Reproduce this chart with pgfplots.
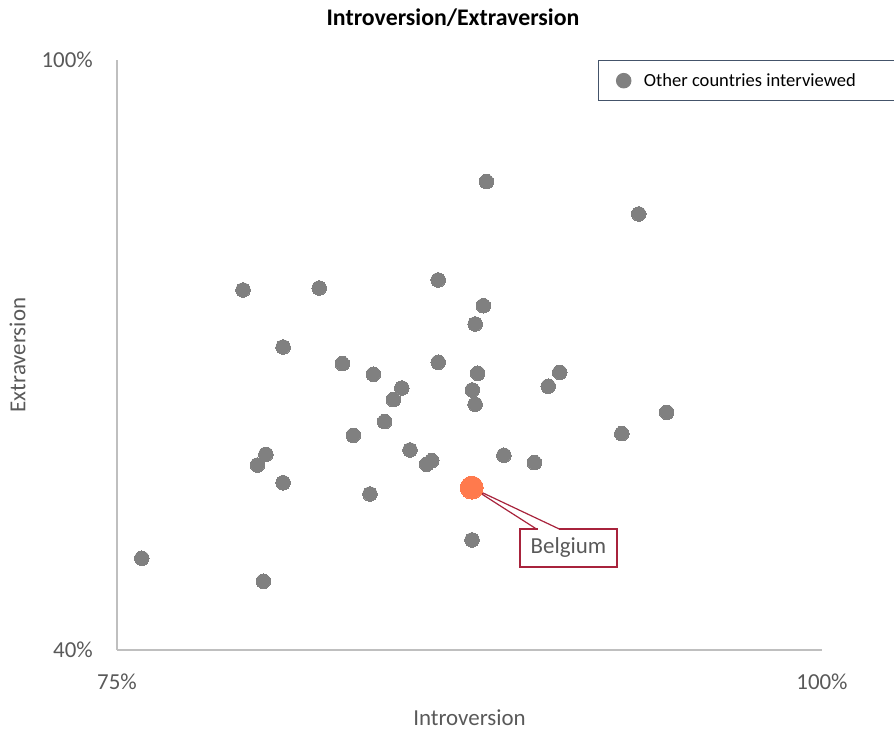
\documentclass[border=0pt]{standalone}
\usepackage{pgfplots}
\pgfplotsset{compat=1.18}
\usepackage{fontspec}
\setmainfont{Carlito}
\definecolor{markgray}{RGB}{128,128,128}
\definecolor{axisgray}{RGB}{191,191,191}
\definecolor{labelgray}{RGB}{89,89,89}
\definecolor{belgiumorange}{RGB}{255,122,77}
\definecolor{crimson}{RGB}{168,35,60}
\definecolor{legendframe}{RGB}{68,84,106}
\begin{document}
\begin{tikzpicture}
\useasboundingbox (0,0) rectangle (894bp,730bp);
\begin{axis}[
  at={(117bp,80bp)}, anchor=south west,
  scale only axis, width=705bp, height=590bp,
  xmin=75, xmax=100, ymin=40, ymax=100,
  axis x line=bottom, axis y line=left,
  axis line style={-, draw=axisgray, line width=1.3bp},
  xtick={75,100}, xticklabels={75\%,100\%},
  ytick={40,100}, yticklabels={40\%,100\%},
  major tick length=0pt,
  /pgf/number format/assume math mode=true,
  tick label style={font=\fontsize{23}{27}\selectfont, text=labelgray, inner sep=0pt},
  xticklabel style={anchor=center, yshift=-32bp},
  yticklabel style={anchor=east, xshift=-24bp},
  every axis x label/.style={at={(axis description cs:0.5,-0.1153)}, anchor=center, font=\fontsize{23}{27}\selectfont, text=labelgray},
  every axis y label/.style={at={(axis description cs:-0.1411,0.5)}, anchor=center, rotate=90, font=\fontsize{23}{27}\selectfont, text=labelgray},
  xlabel={Introversion}, ylabel={Extraversion},
  every axis title/.style={at={(axis description cs:0.4766,1.0712)}, anchor=center, font=\fontsize{23.9}{28}\selectfont\bfseries, text=black},
  title={Introversion/Extraversion},
  legend style={at={(axis description cs:0.6823,1)}, anchor=north west,
    draw=legendframe, line width=0.9bp, inner xsep=17.5bp, inner ysep=12.5bp,
    column sep=12.5bp, font=\fontsize{18.6}{22}\selectfont, text=black,
    nodes={inner sep=0pt}},
  legend image code/.code={\fill[markgray] (0bp,0bp) circle (7.3bp);},
  clip=false,
]
\addplot[only marks, mark=*, mark size=7.3bp, mark options={draw=markgray, fill=markgray, line width=0pt}] table {
x y
75.88 49.33
79.47 76.61
80.19 46.99
79.98 58.81
80.28 59.90
80.89 70.81
80.89 57.01
82.17 76.81
82.99 69.12
83.38 61.83
83.97 55.86
84.09 68.04
84.49 63.22
84.80 65.46
85.10 66.64
85.39 60.34
85.98 58.89
86.16 59.25
86.39 77.63
86.39 69.26
87.60 66.44
87.70 73.15
87.70 64.99
87.79 68.14
87.99 75.01
88.10 87.63
87.59 51.19
88.72 59.80
89.80 59.05
90.29 66.82
90.70 68.24
92.90 62.00
93.50 84.34
94.49 64.17
};
\addlegendentry{Other countries interviewed\hspace*{60bp}}
\addplot[only marks, mark=*, mark size=11.5bp, mark options={draw=belgiumorange, fill=belgiumorange, line width=0pt}, forget plot] table {
x y
87.58 56.51
};
\node[draw=crimson, line width=1.2bp, fill=white, text=labelgray, font=\fontsize{23}{27}\selectfont, minimum width=97bp, minimum height=38bp, inner sep=0pt] at (axis cs:91.01,50.38) {Belgium};
\draw[white, line width=2bp] (axis cs:89.93,52.27) -- (axis cs:90.67,52.27);
\draw[crimson, line width=1.2bp, line join=round] (axis cs:89.894,52.27) -- (axis cs:87.58,56.51) -- (axis cs:90.709,52.27);
\end{axis}
\end{tikzpicture}
\end{document}
